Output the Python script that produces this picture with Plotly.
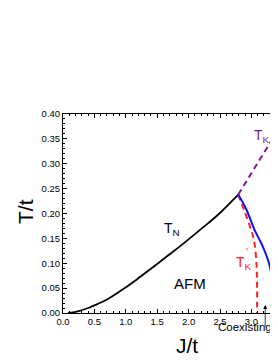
import plotly.graph_objects as go

# ---- data ----
tn_J = [0.08, 0.25, 0.4, 0.55, 0.7, 0.9, 1.17, 1.43, 1.70, 1.96, 2.23, 2.49, 2.79]
tn_T = [0.0, 0.004, 0.010, 0.018, 0.027, 0.043, 0.067, 0.092, 0.118, 0.144, 0.172, 0.200, 0.238]

tk_J = [2.79, 3.58]
tk_T = [0.238, 0.40]

tkp_J = [2.79, 2.88, 3.00, 3.05, 3.08, 3.09, 3.09]
tkp_T = [0.238, 0.208, 0.165, 0.140, 0.100, 0.060, 0.0]

tc_J = [2.79, 2.92, 3.05, 3.13, 3.18, 3.28, 3.33, 3.345, 3.35]
tc_T = [0.238, 0.208, 0.167, 0.147, 0.134, 0.100, 0.067, 0.030, 0.0]

coexist_J = 3.22
x_ticks = [0.0, 0.5, 1.0, 1.5, 2.0, 2.5, 3.0, 3.5]
y_ticks = [0.00, 0.05, 0.10, 0.15, 0.20, 0.25, 0.30, 0.35, 0.40]

FONT = "Liberation Sans, Arial, sans-serif"
OFF = 8  # page body margin
WIN_W, WIN_H = 278, 360
W, H = WIN_W - OFF, WIN_H - OFF
# plot area in window pixels
PL, PR, PT, PB = 63, 278, 114, 313
L, R, T, B = PL - OFF, 0, PT - OFF, H - (PB - OFF)
PX_PER_J = 62.8
XMAX = (PR - PL) / PX_PER_J

fig = go.Figure()
fig.add_trace(go.Scatter(x=tn_J, y=tn_T, mode="lines", line=dict(color="black", width=1.8, shape="spline"), showlegend=False))
fig.add_trace(go.Scatter(x=tk_J, y=tk_T, mode="lines", line=dict(color="#7a1a8c", width=2, dash="6px,4px"), showlegend=False))
fig.add_trace(go.Scatter(x=tkp_J, y=tkp_T, mode="lines", line=dict(color="#ff2020", width=2, dash="6px,4px", shape="spline"), showlegend=False))
fig.add_trace(go.Scatter(x=tc_J, y=tc_T, mode="lines", line=dict(color="#1010ff", width=2, shape="spline"), showlegend=False))

def px2paper_x(px):
    return (px - PL) / (PR - PL)

def px2paper_y(py):
    return (PB - py) / (PB - PT)

def txt(x, y, text, size, color="black", xanchor="center", xref="x", yref="y", **kw):
    d = dict(x=x, y=y, xref=xref, yref=yref, text=text, showarrow=False,
             xanchor=xanchor, yanchor="middle", borderpad=0,
             font=dict(size=size, color=color, family=FONT))
    d.update(kw)
    return d

ann = []
ann.append(txt(1.74, 0.169, "T<sub>N</sub>", 14))
ann.append(txt(2.02, 0.060, "AFM", 15))
ann.append(txt(3.17, 0.355, "T<sub>K</sub>", 14, "#7a1a8c"))
ann.append(txt(2.89, 0.100, "T<sub>K</sub>", 14, "#ff2020"))
ann.append(txt(2.93, 0.122, "'", 10, "#ff2020"))
ann.append(txt(px2paper_x(273), px2paper_y(217), "K", 14, xanchor="left", xref="paper", yref="paper"))
ann.append(txt(px2paper_x(272), px2paper_y(262), "T", 14, "#1010ff", xanchor="left", xref="paper", yref="paper"))
ann.append(txt(px2paper_x(217), px2paper_y(327), "Coexisting region", 11.5, xanchor="left", xref="paper", yref="paper"))
ann.append(txt(px2paper_x(PL + 3.5 * PX_PER_J), px2paper_y(320), "3.5", 9.5, xref="paper", yref="paper"))
ann.append(dict(x=coexist_J, y=0.016, xref="x", yref="y", text="", showarrow=True, ax=0, ay=23,
                arrowhead=2, arrowsize=1, arrowwidth=0.8, arrowcolor="black"))
ann.append(txt(px2paper_x(187), px2paper_y(345), "J/t", 21, xref="paper", yref="paper"))
ann.append(txt(px2paper_x(25), px2paper_y(212), "T/t", 21, xref="paper", yref="paper", textangle=-90))

fig.update_layout(
    width=W, height=H,
    margin=dict(l=L, r=R, t=T, b=B, pad=0),
    paper_bgcolor="white", plot_bgcolor="white",
    annotations=ann,
    font=dict(family=FONT, size=9.5, color="black"),
)
fig.update_xaxes(range=[0, XMAX], showgrid=False, zeroline=False, showline=True, linecolor="black", linewidth=1,
                 mirror="allticks", ticks="inside", ticklen=4, tickwidth=1, tickcolor="black",
                 tickvals=x_ticks, ticktext=["%.1f" % v for v in x_ticks],
                 minor=dict(dtick=0.1, ticks="inside", ticklen=2, tickcolor="black", showgrid=False),
                 tickfont=dict(size=9.5, family=FONT))
fig.update_yaxes(range=[0, 0.40], showgrid=False, zeroline=False, showline=True, linecolor="black", linewidth=1,
                 mirror=False, ticks="inside", ticklen=4, tickwidth=1, tickcolor="black",
                 tickvals=y_ticks, ticktext=["%.2f" % v for v in y_ticks],
                 minor=dict(dtick=0.01, ticks="inside", ticklen=2, tickcolor="black", showgrid=False),
                 tickfont=dict(size=9.5, family=FONT))

fig.write_html("out.html")
